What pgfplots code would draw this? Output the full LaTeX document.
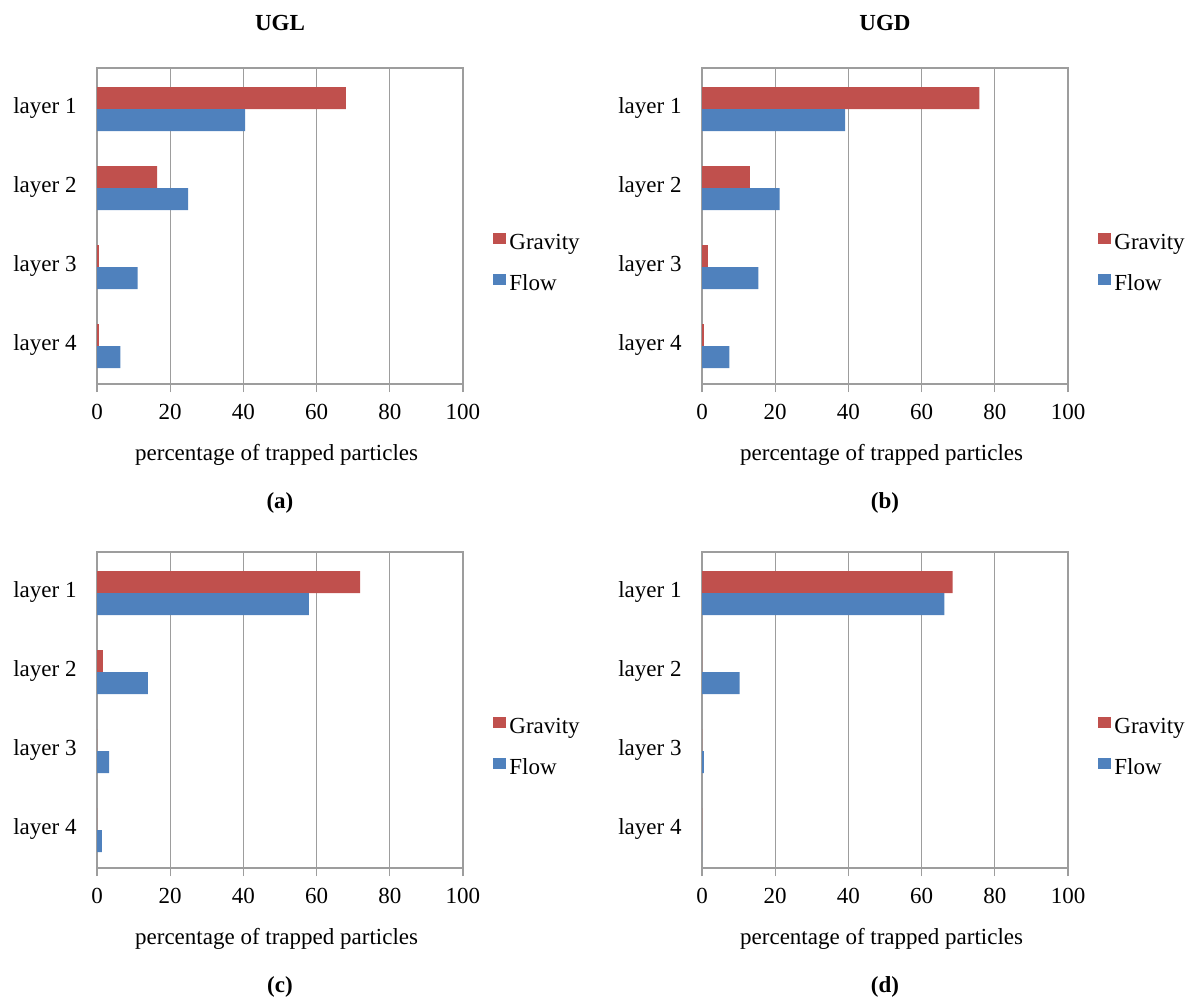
\documentclass[border=0pt]{standalone}
\usepackage{pgfplots}
\pgfplotsset{compat=1.18}
\usepackage{fontspec}
\setmainfont{Liberation Serif}
\definecolor{cred}{HTML}{C0504D}
\definecolor{cblue}{HTML}{4F81BD}
\definecolor{cgrid}{HTML}{9D9D9D}
\newcommand{\fs}{\fontsize{11.5}{13.8}\selectfont}
\pgfplotsset{
 panel/.style={
  xbar, scale only axis, width=183pt, height=158pt,
  xmin=0, xmax=100, ymin=0.5, ymax=4.5,
  xtick={0,20,...,100}, ytick={1,2,3,4},
  yticklabels={layer 4,layer 3,layer 2,layer 1},
  xmajorgrids, grid style={cgrid, line width=0.6pt},
  axis line style={cgrid, line width=0.6pt},
  xtick pos=bottom, ytick pos=left, tick align=outside,
  major tick length=4pt, xtick style={cgrid, line width=0.6pt},
  ytick style={draw=none},
  /pgf/number format/assume math mode=true,
  ticklabel style={font=\fs},
  xticklabel style={yshift=-2.4pt},
  yticklabel style={xshift=-2.7pt},
  bar width=11pt,
  clip=false,
  legend style={at={(1.082,0.379)}, anchor=west, draw=none, fill=none, inner sep=0pt, font=\fs, row sep=9.8pt, column sep=1.5pt, nodes={inner sep=0pt, text height=8pt, text depth=2.5pt}},
  legend cell align=left,
  legend image code/.code={\fill[##1, draw=none] (0pt,0pt) rectangle (6.5pt,5.7pt);},
 },
 grav/.style={fill=cred, draw=none, bar shift=4.75pt},
 flow/.style={fill=cblue, draw=none, bar shift=-6.25pt},
}
\begin{document}
\begin{tikzpicture}
\path[use as bounding box] (0,0) rectangle (597.5pt,501.5pt);
% (a)
\begin{axis}[panel, at={(48.5pt,309.5pt)}, anchor=south west]
\addplot[grav] coordinates {(68.0,4) (16.4,3) (0.5,2) (0.5,1)};
\addplot[flow] coordinates {(40.5,4) (24.9,3) (11.1,2) (6.4,1)};
\legend{Gravity,Flow}
\node[font=\fs\bfseries] at (rel axis cs:0.5,1) [yshift=22.6pt] {UGL};
\node[font=\fs] at (rel axis cs:0.5,0) [yshift=-35.5pt, xshift=-1.7pt] {percentage of trapped particles};
\node[font=\fs\bfseries] at (rel axis cs:0.5,0) [yshift=-59.25pt] {(a)};
\end{axis}
% (b)
\begin{axis}[panel, at={(351pt,309.5pt)}, anchor=south west]
\addplot[grav] coordinates {(75.8,4) (13.1,3) (1.6,2) (0.5,1)};
\addplot[flow] coordinates {(39.1,4) (21.2,3) (15.4,2) (7.5,1)};
\legend{Gravity,Flow}
\node[font=\fs\bfseries] at (rel axis cs:0.5,1) [yshift=22.6pt] {UGD};
\node[font=\fs] at (rel axis cs:0.5,0) [yshift=-35.5pt, xshift=-1.7pt] {percentage of trapped particles};
\node[font=\fs\bfseries] at (rel axis cs:0.5,0) [yshift=-59.25pt] {(b)};
\end{axis}
% (c)
\begin{axis}[panel, at={(48.5pt,67.5pt)}, anchor=south west]
\addplot[grav] coordinates {(71.9,4) (1.6,3) (0,2) (0,1)};
\addplot[flow] coordinates {(57.9,4) (13.9,3) (3.3,2) (1.3,1)};
\legend{Gravity,Flow}
\node[font=\fs] at (rel axis cs:0.5,0) [yshift=-35.5pt, xshift=-1.7pt] {percentage of trapped particles};
\node[font=\fs\bfseries] at (rel axis cs:0.5,0) [yshift=-59.25pt] {(c)};
\end{axis}
% (d)
\begin{axis}[panel, at={(351pt,67.5pt)}, anchor=south west]
\addplot[grav] coordinates {(68.5,4) (0,3) (0,2) (0,1)};
\addplot[flow] coordinates {(66.2,4) (10.3,3) (0.5,2) (0,1)};
\legend{Gravity,Flow}
\node[font=\fs] at (rel axis cs:0.5,0) [yshift=-35.5pt, xshift=-1.7pt] {percentage of trapped particles};
\node[font=\fs\bfseries] at (rel axis cs:0.5,0) [yshift=-59.25pt] {(d)};
\end{axis}
\end{tikzpicture}
\end{document}
